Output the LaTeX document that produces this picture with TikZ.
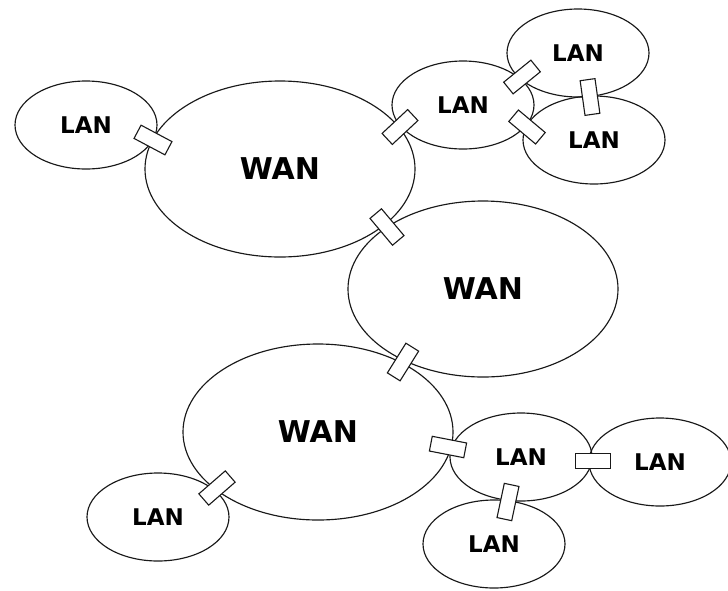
\documentclass[tikz,border=0pt]{standalone}
\usepackage{fontspec}
\setmainfont{DejaVu Sans}
\usetikzlibrary{shapes.geometric}
\begin{document}
\begin{tikzpicture}[x=1pt,y=-1pt,
  net/.style={ellipse,draw=black!90,line width=1.15pt,inner sep=0pt,font=\bfseries},
  lan/.style={net,minimum width=142pt,minimum height=88pt,font=\fontsize{23}{23}\selectfont\bfseries},
  wan/.style={net,minimum width=270pt,minimum height=176pt,font=\fontsize{30}{30}\selectfont\bfseries},
  link/.style={rectangle,draw=black!90,fill=white,line width=1.1pt,minimum width=35pt,minimum height=15pt,inner sep=0pt}]
\useasboundingbox (0,0) rectangle (728,590);
% networks
\node[wan] (w1) at (280,169) {WAN};
\node[wan] (w2) at (483,289) {WAN};
\node[wan] (w3) at (318,432) {WAN};
\node[lan] (l1) at (86,125) {LAN};
\node[lan] (l2) at (463,105) {LAN};
\node[lan] (l3) at (578,53) {LAN};
\node[lan] (l4) at (594,140) {LAN\hspace{12pt}};
\node[lan] (l5) at (521,457) {LAN};
\node[lan] (l6) at (660,462) {LAN};
\node[lan] (l7) at (494,544) {LAN};
\node[lan] (l8) at (158,517) {LAN};
% links
\node[link,rotate=-28] (b1) at (153,140) {};
\node[link,rotate=43] (b2) at (400,127) {};
\node[link,rotate=39] (b3) at (522,77) {};
\node[link,rotate=-40] (b4) at (527,127) {};
\node[link,rotate=-82] (b5) at (590,97) {};
\node[link,rotate=-50] (b6) at (387,227) {};
\node[link,rotate=58] (b7) at (403,362) {};
\node[link,rotate=-11] (b8) at (448,447) {};
\node[link] (b9) at (593,461) {};
\node[link,rotate=78] (b10) at (508,502) {};
\node[link,rotate=41] (b11) at (217,488) {};
\end{tikzpicture}
\end{document}
